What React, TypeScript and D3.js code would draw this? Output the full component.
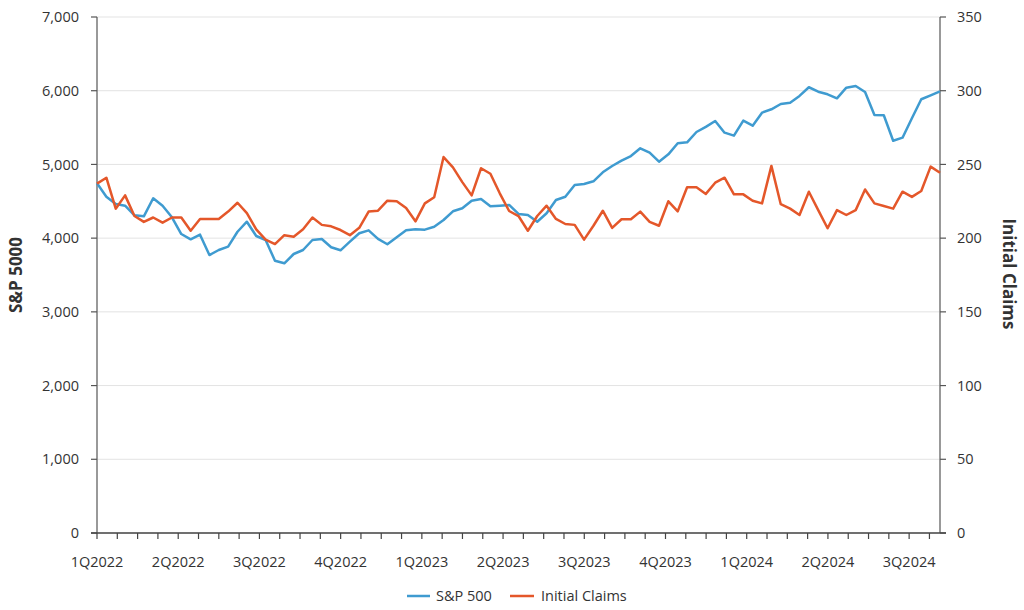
import * as d3 from 'd3'

const QUARTERS = ['1Q2022', '2Q2022', '3Q2022', '4Q2022', '1Q2023', '2Q2023', '3Q2023', '4Q2023', '1Q2024', '2Q2024', '3Q2024']

const SP500 = [
  4744, 4562, 4463, 4440, 4310, 4296, 4541, 4440, 4283, 4056,
  3984, 4047, 3771, 3839, 3884, 4087, 4223, 4029, 3975, 3694,
  3659, 3785, 3839, 3975, 3989, 3876, 3835, 3952, 4066, 4106,
  3989, 3917, 4011, 4106, 4120, 4115, 4155, 4246, 4364, 4405,
  4508, 4531, 4432, 4440, 4450, 4328, 4314, 4223, 4337, 4518,
  4562, 4721, 4735, 4771, 4893, 4979, 5051, 5114, 5219, 5159,
  5037, 5137, 5287, 5300, 5440, 5510, 5590, 5431, 5390, 5594,
  5526, 5702, 5748, 5820, 5838, 5929, 6047, 5987, 5951, 5897,
  6041, 6064, 5983, 5671, 5667, 5322, 5363, 5626, 5884, 5938,
  5992,
]

const CLAIMS = [
  237, 241, 220, 229, 215, 211, 214, 210.5, 214, 214,
  205, 213, 213, 213, 218, 224, 217, 206, 199, 196,
  202, 201, 206, 214, 209, 208, 205.5, 202, 207, 218,
  218.6, 225.4, 225, 220.4, 211.4, 223.6, 227.7, 255, 248, 238,
  229, 247.4, 243.7, 230.4, 218.4, 215, 205, 215, 222, 213,
  209.6, 209, 199, 208.4, 218.6, 207, 212.8, 212.8, 218, 211,
  208.4, 225, 218.2, 234.5, 234.5, 230, 237.6, 241, 229.7, 229.7,
  225.4, 223.6, 249, 223, 220, 215.7, 231.5, 219, 206.7, 219,
  215.7, 219, 233, 223.6, 221.8, 220, 231.5, 228, 232, 248.5,
  244.4,
]

const LEFT_TICKS = [0, 1000, 2000, 3000, 4000, 5000, 6000, 7000]
const RIGHT_TICKS = [0, 50, 100, 150, 200, 250, 300, 350]

const BLUE = '#3f9bd0'
const ORANGE = '#e4572a'
const TEXT = '#333333'
const FONT = '"Open Sans", sans-serif'
const FS = 14.5

const W = 1024
const H = 610
const left = 97
const right = 940
const top = 17
const bottom = 533
// quarter span covered by the plot (one quarter ≈ four minor ticks)
const QUARTER_SPAN = 10.38

export default function App() {
  const x = d3.scaleLinear([0, SP500.length - 1], [left, right])
  const xq = d3.scaleLinear([0, QUARTER_SPAN], [left, right])
  const yL = d3.scaleLinear([0, 7000], [bottom, top])
  const yR = d3.scaleLinear([0, 350], [bottom, top])

  const minorTicks = d3.range(0, QUARTER_SPAN, 0.25)

  const spLine = d3.line<number>().x((_, i) => x(i)).y((d) => yL(d))
  const clLine = d3.line<number>().x((_, i) => x(i)).y((d) => yR(d))

  const fmt = d3.format(',')

  return (
    <svg
      width={W}
      height={H}
      style={{ position: 'absolute', left: 0, top: 0, background: '#fff' }}
      fontFamily={FONT}
    >
      {/* gridlines */}
      {LEFT_TICKS.map((t) => (
        <line key={'g' + t} x1={left} x2={right} y1={yL(t)} y2={yL(t)} stroke="#e3e3e3" strokeWidth={1} />
      ))}

      {/* left axis */}
      <line x1={left} x2={left} y1={top} y2={bottom} stroke="#777" strokeWidth={1.5} />
      {LEFT_TICKS.map((t) => (
        <g key={'l' + t}>
          <line x1={left - 6} x2={left} y1={yL(t)} y2={yL(t)} stroke="#555" strokeWidth={1.2} />
          <text x={79} y={yL(t)} dy="0.35em" textAnchor="end" fontSize={FS} fill={TEXT}>
            {fmt(t)}
          </text>
        </g>
      ))}

      {/* right axis */}
      <line x1={right} x2={right} y1={top} y2={bottom} stroke="#777" strokeWidth={1.5} />
      {RIGHT_TICKS.map((t) => (
        <g key={'r' + t}>
          <line x1={right} x2={right + 6} y1={yR(t)} y2={yR(t)} stroke="#555" strokeWidth={1.2} />
          <text x={957} y={yR(t)} dy="0.35em" textAnchor="start" fontSize={FS} fill={TEXT}>
            {t}
          </text>
        </g>
      ))}

      {/* bottom axis */}
      <line x1={left - 6} x2={right + 6} y1={bottom} y2={bottom} stroke="#444" strokeWidth={1.5} />
      {minorTicks.map((q) => (
        <line key={'t' + q} x1={xq(q)} x2={xq(q)} y1={bottom} y2={bottom + 6} stroke="#444" strokeWidth={1.2} />
      ))}
      {QUARTERS.map((lab, i) => (
        <text key={lab} x={xq(i)} y={567} textAnchor="middle" fontSize={FS} fill={TEXT}>
          {lab}
        </text>
      ))}

      {/* axis titles */}
      <text
        transform={`translate(22,275) rotate(-90)`}
        textAnchor="middle"
        fontSize={17}
        fontWeight="bold"
        fill={TEXT}
      >
        S&amp;P 5000
      </text>
      <text
        transform={`translate(1003,274) rotate(90)`}
        textAnchor="middle"
        fontSize={17}
        fontWeight="bold"
        fill={TEXT}
      >
        Initial Claims
      </text>

      {/* series */}
      <path d={spLine(SP500) ?? ''} fill="none" stroke={BLUE} strokeWidth={2.5} strokeLinejoin="round" />
      <path d={clLine(CLAIMS) ?? ''} fill="none" stroke={ORANGE} strokeWidth={2.5} strokeLinejoin="round" />

      {/* legend */}
      <g fontSize={FS} fill={TEXT}>
        <line x1={407} x2={430} y1={596} y2={596} stroke={BLUE} strokeWidth={2.5} />
        <text x={436} y={596} dy="0.35em">S&amp;P 500</text>
        <line x1={510} x2={534} y1={596} y2={596} stroke={ORANGE} strokeWidth={2.5} />
        <text x={541} y={596} dy="0.35em">Initial Claims</text>
      </g>
    </svg>
  )
}
